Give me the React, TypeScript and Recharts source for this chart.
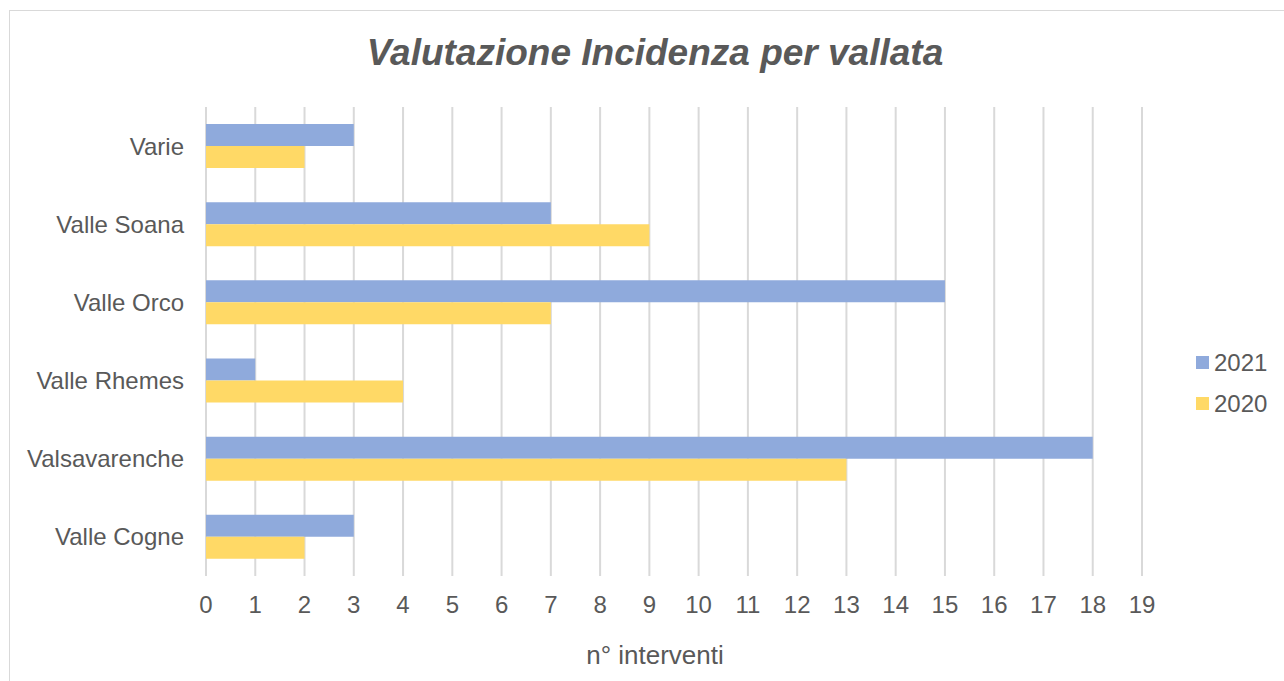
import { BarChart, Bar, XAxis, YAxis, CartesianGrid, Legend } from 'recharts';

const categories = ['Varie', 'Valle Soana', 'Valle Orco', 'Valle Rhemes', 'Valsavarenche', 'Valle Cogne'];
const values2021 = [3, 7, 15, 1, 18, 3];
const values2020 = [2, 9, 7, 4, 13, 2];
const xTicks = [0, 1, 2, 3, 4, 5, 6, 7, 8, 9, 10, 11, 12, 13, 14, 15, 16, 17, 18, 19];
const seriesOrder = ['2021', '2020'];

const data = categories.map((name, i) => ({
  name,
  y2021: values2021[i],
  y2020: values2020[i],
}));

const FONT = '"Liberation Sans", Arial, sans-serif';
const TEXT = '#595959';

function LegendBox({ payload }: any) {
  const items = [...(payload || [])].sort(
    (a: any, b: any) => seriesOrder.indexOf(String(a.value)) - seriesOrder.indexOf(String(b.value))
  );
  return (
    <div style={{ fontFamily: FONT }}>
      {items.map((p: any) => (
        <div key={p.value} style={{ display: 'flex', alignItems: 'center', height: 41 }}>
          <span style={{ width: 13, height: 13, background: p.color, display: 'inline-block', marginRight: 5 }} />
          <span style={{ fontSize: 24, color: TEXT }}>{p.value}</span>
        </div>
      ))}
    </div>
  );
}

export default function App() {
  return (
    <div style={{ position: 'absolute', left: 0, top: 0, width: 1284, height: 681, overflow: 'hidden', background: '#fff' }}>
      <div
        style={{
          position: 'absolute',
          left: 9,
          top: 10,
          width: 1300,
          height: 700,
          border: '1px solid #d9d9d9',
        }}
      />
      <div
        style={{
          position: 'absolute',
          left: 0,
          width: 1310,
          top: 34,
          textAlign: 'center',
          fontFamily: FONT,
          fontSize: 37,
          lineHeight: '37px',
          fontWeight: 'bold',
          fontStyle: 'italic',
          color: TEXT,
        }}
      >
        Valutazione Incidenza per vallata
      </div>
      <BarChart
        width={1284}
        height={681}
        data={data}
        layout="vertical"
        margin={{ top: 107, right: 142, bottom: 0, left: 0 }}
        barGap={0}
        barSize={22}
        style={{ position: 'absolute', left: 0, top: 0 }}
      >
        <CartesianGrid horizontal={false} stroke="#d9d9d9" strokeWidth={2} />
        <XAxis
          type="number"
          domain={[0, 19]}
          ticks={xTicks}
          interval={0}
          axisLine={false}
          tickLine={false}
          tickSize={0}
          tickMargin={20}
          height={105}
          tick={{ fontSize: 24, fill: TEXT, fontFamily: FONT }}
        />
        <YAxis
          type="category"
          dataKey="name"
          width={206}
          axisLine={false}
          tickLine={false}
          tickSize={0}
          tickMargin={22}
          tick={{ fontSize: 24, fill: TEXT, fontFamily: FONT }}
        />
        <Legend
          layout="vertical"
          align="center"
          verticalAlign="middle"
          content={<LegendBox />}
          wrapperStyle={{ position: 'absolute', left: 1196, top: 342, width: 90 }}
        />
        <Bar dataKey="y2021" name="2021" fill="#8faadc" isAnimationActive={false} />
        <Bar dataKey="y2020" name="2020" fill="#ffd966" isAnimationActive={false} />
      </BarChart>
      <div
        style={{
          position: 'absolute',
          left: 0,
          width: 1310,
          top: 642,
          textAlign: 'center',
          fontFamily: FONT,
          fontSize: 26,
          lineHeight: '26px',
          color: TEXT,
        }}
      >
        n° interventi
      </div>
    </div>
  );
}
